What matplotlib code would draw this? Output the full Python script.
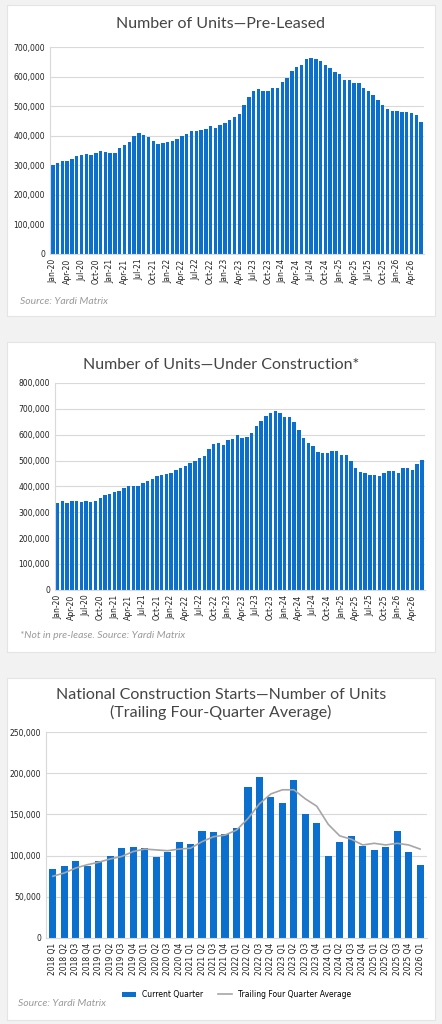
import matplotlib
matplotlib.use("Agg")
import matplotlib.pyplot as plt
from matplotlib.patches import FancyBboxPatch
from matplotlib.ticker import FuncFormatter
import numpy as np

months = [f"{m}-{y}" for y in range(20, 27) for m in ["Jan","Feb","Mar","Apr","May","Jun","Jul","Aug","Sep","Oct","Nov","Dec"]][:78]
pre_leased = [300,308,316,316,323,333,335,337,336,341,348,345,
              343,343,360,370,380,400,408,403,395,383,373,376,
              380,382,388,400,405,415,416,420,422,432,425,437,
              442,455,462,472,505,530,552,558,553,553,563,562,
              582,595,620,632,638,660,663,660,652,640,630,617,
              608,590,590,577,580,562,552,538,520,505,492,485,
              485,482,482,476,470,445]
under_constr = [335,345,335,345,345,340,342,338,342,355,368,370,
                378,382,392,400,402,402,415,422,428,440,446,447,
                453,465,470,477,490,497,508,518,543,563,568,560,
                578,585,598,587,590,607,633,652,672,685,690,683,
                668,668,648,617,587,566,557,534,530,530,535,535,
                520,520,500,472,455,450,443,446,441,453,460,460,
                453,472,470,465,485,503]
quarters = [f"{y} Q{q}" for y in range(2018, 2027) for q in range(1, 5)][:33]
current_q = [84,87,93,88,94,100,109,110,109,98,104,116,114,130,129,126,134,183,195,171,164,192,150,140,99,116,124,112,107,110,130,104,89]
trailing = [75,79,85,89,92,96,99,105,108,107,106,108,109,117,123,125,131,145,163,175,180,180,169,160,138,124,120,113,115,113,115,113,108]

BLUE = "#0b6fce"
fig = plt.figure(figsize=(4.42, 10.24), dpi=100)
fig.patch.set_facecolor("#f2f2f2")

def card(y0, y1):
    fig.patches.append(FancyBboxPatch((7/442, 1-y1/1024), 428/442, (y1-y0)/1024,
                       boxstyle="square,pad=0", transform=fig.transFigure,
                       facecolor="white", edgecolor="#e4e4e4", lw=0.8, zorder=-1))

card(5, 316); card(342, 652); card(678, 1020)
fmt = FuncFormatter(lambda v, p: f"{int(v):,}")

def style(ax, ymax, step):
    ax.set_ylim(0, ymax)
    ax.set_yticks(np.arange(0, ymax+1, step))
    ax.yaxis.set_major_formatter(fmt)
    ax.grid(axis="y", color="#d9d9d9", lw=0.8)
    ax.set_axisbelow(True)
    for s in ["top", "right"]:
        ax.spines[s].set_visible(False)
    ax.spines["left"].set_color("#d9d9d9")
    ax.spines["bottom"].set_color("#d9d9d9")
    ax.tick_params(axis="both", length=0, labelsize=5.5, colors="#222222")

def monthly(rect, vals, ymax, title, ty, src, sy):
    ax = fig.add_axes(rect)
    x = np.arange(len(vals))
    ax.bar(x, np.array(vals)*1000, width=0.72, color=BLUE)
    ax.set_xlim(-0.6, len(vals)-0.4)
    style(ax, ymax, 100000)
    ax.set_xticks(x[::3])
    ax.set_xticklabels(months[::3], rotation=90)
    fig.text(0.5, 1-ty/1024, title, ha="center", va="center", fontsize=11.5, color="#444444", family="Lato")
    fig.text(0.045, 1-sy/1024, src, ha="left", va="center", fontsize=7.5, color="#999999", style="italic", family="Lato")

monthly([0.113, 0.752, 0.846, 0.202], pre_leased, 700000, "Number of Units\u2014Pre-Leased", 24, "Source: Yardi Matrix", 302)
monthly([0.124, 0.424, 0.837, 0.202], under_constr, 800000, "Number of Units\u2014Under Construction*", 365, "*Not in pre-lease. Source: Yardi Matrix", 636)

ax = fig.add_axes([0.104, 0.084, 0.862, 0.201])
x = np.arange(len(current_q))
b = ax.bar(x, np.array(current_q)*1000, width=0.62, color=BLUE, label="Current Quarter")
l, = ax.plot(x, np.array(trailing)*1000, color="#a6a6a6", lw=1.2, label="Trailing Four Quarter Average")
ax.set_xlim(-0.6, len(x)-0.4)
style(ax, 250000, 50000)
ax.set_xticks(x)
ax.set_xticklabels(quarters, rotation=90)
ax.legend(handles=[b, l], loc="upper center", bbox_to_anchor=(0.5, -0.22), ncol=2, frameon=False, fontsize=5.5,
          handlelength=1.8, columnspacing=2)
fig.text(0.5, 1-704/1024, "National Construction Starts\u2014Number of Units\n(Trailing Four-Quarter Average)",
         ha="center", va="center", fontsize=11.5, color="#444444", family="Lato", linespacing=1.2)
fig.text(0.04, 1-1003/1024, "Source: Yardi Matrix", ha="left", va="center", fontsize=7.5, color="#999999", style="italic", family="Lato")

fig.savefig("out.png", dpi=100, facecolor=fig.get_facecolor())
